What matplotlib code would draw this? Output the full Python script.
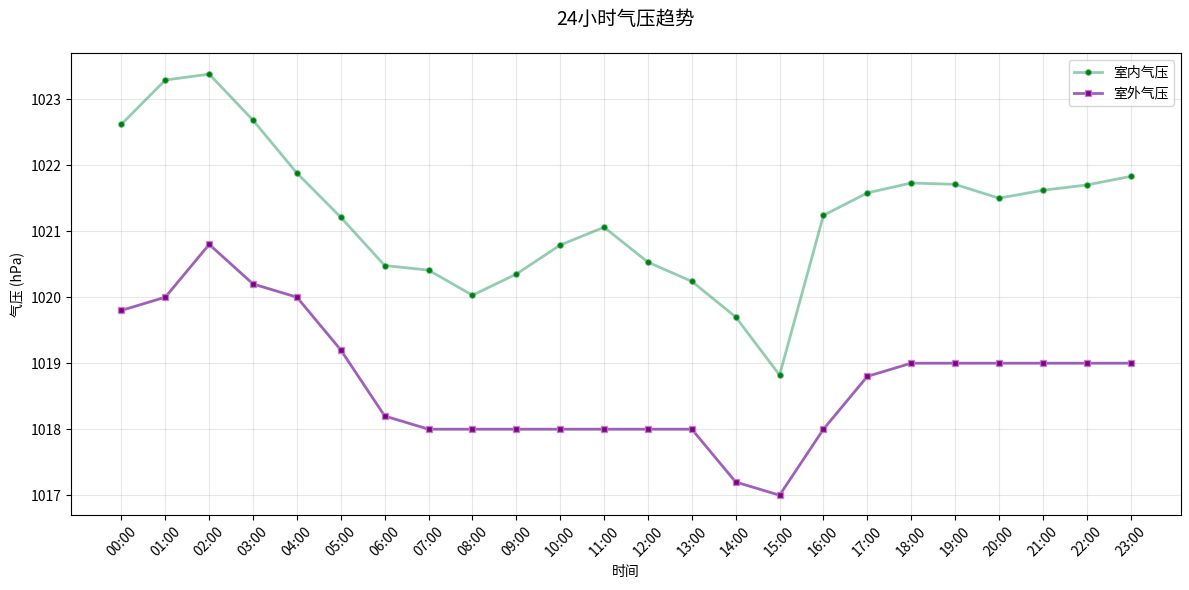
import numpy as np
import matplotlib
matplotlib.use('Agg')
import matplotlib.pyplot as plt
from matplotlib.colors import to_rgba

plt.rcParams['font.family'] = ['Noto Sans CJK SC', 'DejaVu Sans']
plt.rcParams['axes.unicode_minus'] = False

# 数据
hours = ['%02d:00' % h for h in range(24)]
indoor = [1022.62, 1023.29, 1023.38, 1022.68, 1021.88, 1021.21, 1020.48, 1020.41,
          1020.03, 1020.35, 1020.79, 1021.06, 1020.53, 1020.24, 1019.70, 1018.82,
          1021.24, 1021.58, 1021.73, 1021.71, 1021.50, 1021.62, 1021.70, 1021.83]
outdoor = [1019.8, 1020.0, 1020.8, 1020.2, 1020.0, 1019.2, 1018.2, 1018.0,
           1018.0, 1018.0, 1018.0, 1018.0, 1018.0, 1018.0, 1017.2, 1017.0,
           1018.0, 1018.8, 1019.0, 1019.0, 1019.0, 1019.0, 1019.0, 1019.0]

x = np.arange(len(hours))
fig, ax = plt.subplots(figsize=(11.89, 5.90), dpi=100)

green_line = to_rgba('#299d65', 0.5)
purple_line = to_rgba('#8e44ad', 0.85)

ax.plot(x, indoor, color=green_line, linewidth=2, marker='o', markersize=4,
        markerfacecolor='green', markeredgecolor=green_line, markeredgewidth=1,
        label='室内气压')
ax.plot(x, outdoor, color=purple_line, linewidth=2, marker='s', markersize=5,
        markerfacecolor='purple', markeredgecolor=to_rgba('#c080d0', 0.8),
        markeredgewidth=1, label='室外气压')

ax.set_xticks(x)
ax.set_xticklabels(hours, rotation=45)
ax.set_xlabel('时间')
ax.set_ylabel('气压 (hPa)')
ax.set_title('24小时气压趋势', fontsize=14, pad=20)
ax.grid(True, alpha=0.3)
ax.legend(loc='upper right')
ax.set_ylim(1016.7, 1023.7)

plt.subplots_adjust(left=0.0597, right=0.9933, top=0.9102, bottom=0.1271)
plt.savefig('out.png', dpi=100)
